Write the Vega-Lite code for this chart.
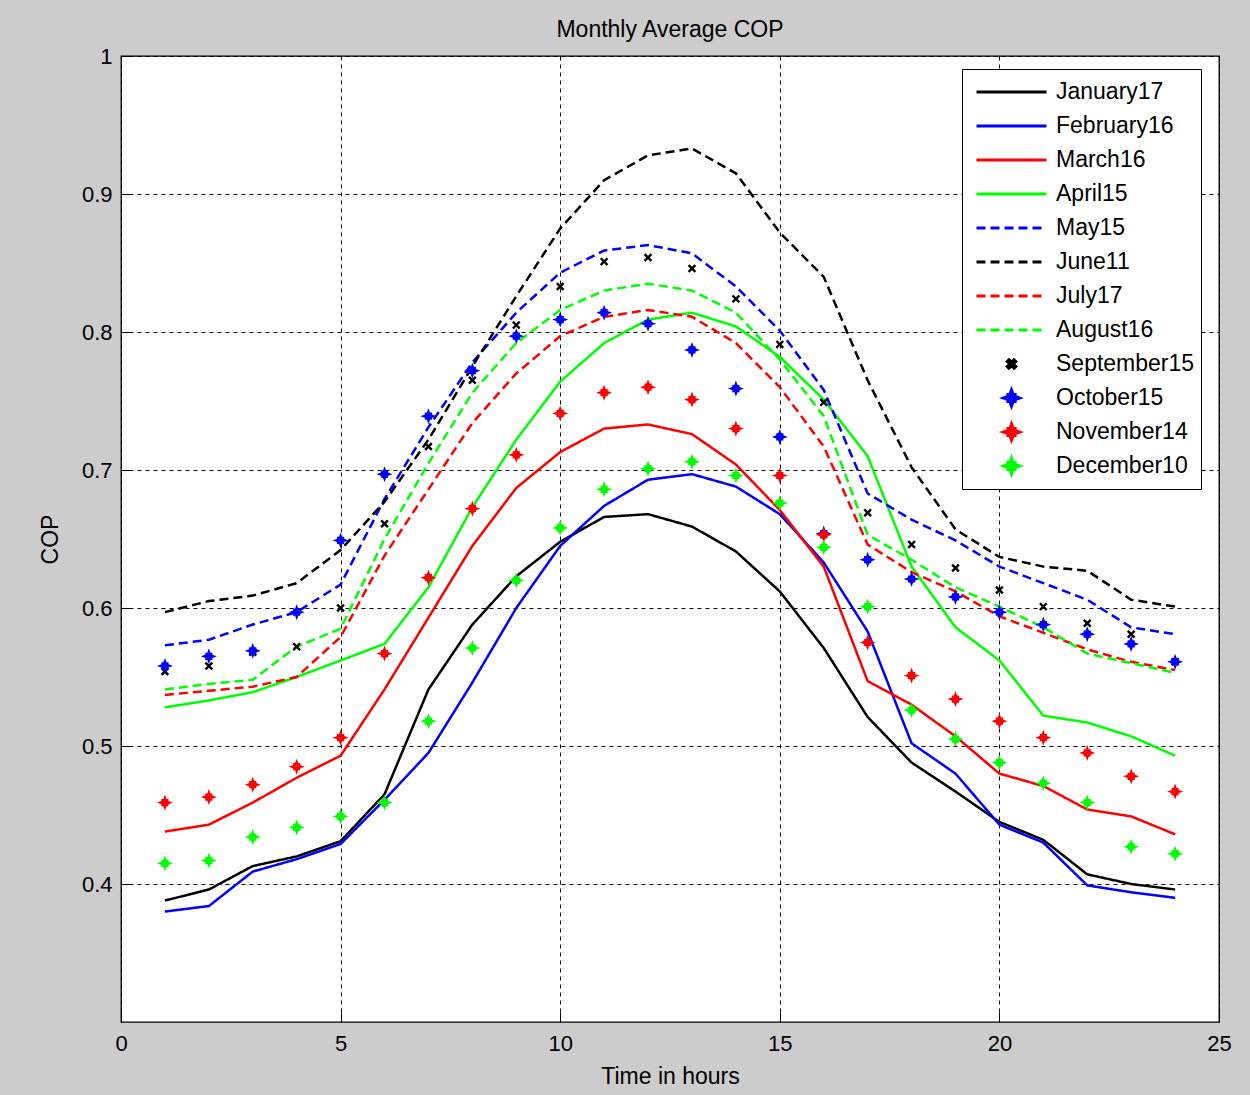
{
"$schema":"https://vega.github.io/schema/vega-lite/v6.json",
"width":1098,"height":966,
"autosize":{"type":"none"},
"padding":{"left":121,"top":56,"right":31,"bottom":73},
"background":"#cccccc",
"title":{"text":"Monthly Average COP","fontSize":23,"font":"Liberation Sans","fontWeight":"normal","color":"#000","offset":3,"anchor":"middle"},
"config":{
 "view":{"fill":"white","stroke":"#000","strokeWidth":1.3},
 "axis":{"labelFont":"Liberation Sans","labelFontSize":22,"labelColor":"#000","titleFont":"Liberation Sans","titleFontSize":23,"titleFontWeight":"normal","titleColor":"#000","domain":false,"gridColor":"#000","gridDash":[4,4],"gridOpacity":1,"gridWidth":1,"tickColor":"#000","tickSize":-10,"tickWidth":1,"labelPadding":19,"labelFlush":false},
 "legend":{"orient":"none","legendX":841,"legendY":13,"direction":"vertical","strokeColor":"#000","fillColor":"white","padding":6,"labelFont":"Liberation Sans","labelFontSize":23,"labelColor":"#000","clipHeight":34,"rowPadding":0,"symbolStrokeWidth":3,"symbolOffset":7,"labelOffset":8,"labelLimit":300}
},
"data":{"values":[
{"s":"January17","h":1,"c":0.388},{"s":"January17","h":2,"c":0.396},{"s":"January17","h":3,"c":0.413},{"s":"January17","h":4,"c":0.420},{"s":"January17","h":5,"c":0.431},{"s":"January17","h":6,"c":0.465},{"s":"January17","h":7,"c":0.541},{"s":"January17","h":8,"c":0.588},{"s":"January17","h":9,"c":0.623},{"s":"January17","h":10,"c":0.648},{"s":"January17","h":11,"c":0.666},{"s":"January17","h":12,"c":0.668},{"s":"January17","h":13,"c":0.659},{"s":"January17","h":14,"c":0.641},{"s":"January17","h":15,"c":0.612},{"s":"January17","h":16,"c":0.571},{"s":"January17","h":17,"c":0.521},{"s":"January17","h":18,"c":0.488},{"s":"January17","h":19,"c":0.467},{"s":"January17","h":20,"c":0.445},{"s":"January17","h":21,"c":0.432},{"s":"January17","h":22,"c":0.407},{"s":"January17","h":23,"c":0.400},{"s":"January17","h":24,"c":0.396},
{"s":"February16","h":1,"c":0.380},{"s":"February16","h":2,"c":0.384},{"s":"February16","h":3,"c":0.409},{"s":"February16","h":4,"c":0.418},{"s":"February16","h":5,"c":0.429},{"s":"February16","h":6,"c":0.461},{"s":"February16","h":7,"c":0.495},{"s":"February16","h":8,"c":0.546},{"s":"February16","h":9,"c":0.600},{"s":"February16","h":10,"c":0.645},{"s":"February16","h":11,"c":0.674},{"s":"February16","h":12,"c":0.693},{"s":"February16","h":13,"c":0.697},{"s":"February16","h":14,"c":0.688},{"s":"February16","h":15,"c":0.668},{"s":"February16","h":16,"c":0.633},{"s":"February16","h":17,"c":0.583},{"s":"February16","h":18,"c":0.502},{"s":"February16","h":19,"c":0.480},{"s":"February16","h":20,"c":0.443},{"s":"February16","h":21,"c":0.430},{"s":"February16","h":22,"c":0.399},{"s":"February16","h":23,"c":0.394},{"s":"February16","h":24,"c":0.390},
{"s":"March16","h":1,"c":0.438},{"s":"March16","h":2,"c":0.443},{"s":"March16","h":3,"c":0.459},{"s":"March16","h":4,"c":0.477},{"s":"March16","h":5,"c":0.493},{"s":"March16","h":6,"c":0.541},{"s":"March16","h":7,"c":0.593},{"s":"March16","h":8,"c":0.645},{"s":"March16","h":9,"c":0.687},{"s":"March16","h":10,"c":0.713},{"s":"March16","h":11,"c":0.730},{"s":"March16","h":12,"c":0.733},{"s":"March16","h":13,"c":0.726},{"s":"March16","h":14,"c":0.704},{"s":"March16","h":15,"c":0.671},{"s":"March16","h":16,"c":0.630},{"s":"March16","h":17,"c":0.547},{"s":"March16","h":18,"c":0.530},{"s":"March16","h":19,"c":0.507},{"s":"March16","h":20,"c":0.480},{"s":"March16","h":21,"c":0.471},{"s":"March16","h":22,"c":0.454},{"s":"March16","h":23,"c":0.449},{"s":"March16","h":24,"c":0.436},
{"s":"April15","h":1,"c":0.528},{"s":"April15","h":2,"c":0.533},{"s":"April15","h":3,"c":0.539},{"s":"April15","h":4,"c":0.550},{"s":"April15","h":5,"c":0.562},{"s":"April15","h":6,"c":0.574},{"s":"April15","h":7,"c":0.615},{"s":"April15","h":8,"c":0.673},{"s":"April15","h":9,"c":0.722},{"s":"April15","h":10,"c":0.764},{"s":"April15","h":11,"c":0.792},{"s":"April15","h":12,"c":0.809},{"s":"April15","h":13,"c":0.814},{"s":"April15","h":14,"c":0.804},{"s":"April15","h":15,"c":0.782},{"s":"April15","h":16,"c":0.751},{"s":"April15","h":17,"c":0.710},{"s":"April15","h":18,"c":0.630},{"s":"April15","h":19,"c":0.586},{"s":"April15","h":20,"c":0.562},{"s":"April15","h":21,"c":0.522},{"s":"April15","h":22,"c":0.517},{"s":"April15","h":23,"c":0.507},{"s":"April15","h":24,"c":0.493},
{"s":"May15","h":1,"c":0.573},{"s":"May15","h":2,"c":0.577},{"s":"May15","h":3,"c":0.588},{"s":"May15","h":4,"c":0.597},{"s":"May15","h":5,"c":0.617},{"s":"May15","h":6,"c":0.679},{"s":"May15","h":7,"c":0.731},{"s":"May15","h":8,"c":0.778},{"s":"May15","h":9,"c":0.814},{"s":"May15","h":10,"c":0.843},{"s":"May15","h":11,"c":0.859},{"s":"May15","h":12,"c":0.863},{"s":"May15","h":13,"c":0.857},{"s":"May15","h":14,"c":0.833},{"s":"May15","h":15,"c":0.801},{"s":"May15","h":16,"c":0.758},{"s":"May15","h":17,"c":0.683},{"s":"May15","h":18,"c":0.664},{"s":"May15","h":19,"c":0.649},{"s":"May15","h":20,"c":0.630},{"s":"May15","h":21,"c":0.618},{"s":"May15","h":22,"c":0.606},{"s":"May15","h":23,"c":0.586},{"s":"May15","h":24,"c":0.581},
{"s":"June11","h":1,"c":0.597},{"s":"June11","h":2,"c":0.605},{"s":"June11","h":3,"c":0.609},{"s":"June11","h":4,"c":0.618},{"s":"June11","h":5,"c":0.642},{"s":"June11","h":6,"c":0.677},{"s":"June11","h":7,"c":0.722},{"s":"June11","h":8,"c":0.775},{"s":"June11","h":9,"c":0.826},{"s":"June11","h":10,"c":0.875},{"s":"June11","h":11,"c":0.910},{"s":"June11","h":12,"c":0.928},{"s":"June11","h":13,"c":0.933},{"s":"June11","h":14,"c":0.915},{"s":"June11","h":15,"c":0.872},{"s":"June11","h":16,"c":0.840},{"s":"June11","h":17,"c":0.765},{"s":"June11","h":18,"c":0.702},{"s":"June11","h":19,"c":0.657},{"s":"June11","h":20,"c":0.637},{"s":"June11","h":21,"c":0.630},{"s":"June11","h":22,"c":0.627},{"s":"June11","h":23,"c":0.606},{"s":"June11","h":24,"c":0.601},
{"s":"July17","h":1,"c":0.537},{"s":"July17","h":2,"c":0.540},{"s":"July17","h":3,"c":0.543},{"s":"July17","h":4,"c":0.550},{"s":"July17","h":5,"c":0.579},{"s":"July17","h":6,"c":0.638},{"s":"July17","h":7,"c":0.686},{"s":"July17","h":8,"c":0.734},{"s":"July17","h":9,"c":0.770},{"s":"July17","h":10,"c":0.797},{"s":"July17","h":11,"c":0.811},{"s":"July17","h":12,"c":0.816},{"s":"July17","h":13,"c":0.811},{"s":"July17","h":14,"c":0.792},{"s":"July17","h":15,"c":0.760},{"s":"July17","h":16,"c":0.717},{"s":"July17","h":17,"c":0.646},{"s":"July17","h":18,"c":0.626},{"s":"July17","h":19,"c":0.612},{"s":"July17","h":20,"c":0.594},{"s":"July17","h":21,"c":0.582},{"s":"July17","h":22,"c":0.570},{"s":"July17","h":23,"c":0.561},{"s":"July17","h":24,"c":0.555},
{"s":"August16","h":1,"c":0.541},{"s":"August16","h":2,"c":0.545},{"s":"August16","h":3,"c":0.548},{"s":"August16","h":4,"c":0.572},{"s":"August16","h":5,"c":0.585},{"s":"August16","h":6,"c":0.650},{"s":"August16","h":7,"c":0.705},{"s":"August16","h":8,"c":0.756},{"s":"August16","h":9,"c":0.792},{"s":"August16","h":10,"c":0.816},{"s":"August16","h":11,"c":0.830},{"s":"August16","h":12,"c":0.835},{"s":"August16","h":13,"c":0.830},{"s":"August16","h":14,"c":0.814},{"s":"August16","h":15,"c":0.780},{"s":"August16","h":16,"c":0.739},{"s":"August16","h":17,"c":0.653},{"s":"August16","h":18,"c":0.635},{"s":"August16","h":19,"c":0.615},{"s":"August16","h":20,"c":0.601},{"s":"August16","h":21,"c":0.586},{"s":"August16","h":22,"c":0.567},{"s":"August16","h":23,"c":0.560},{"s":"August16","h":24,"c":0.553},
{"s":"September15","h":1,"c":0.554},{"s":"September15","h":2,"c":0.558},{"s":"September15","h":3,"c":0.568},{"s":"September15","h":4,"c":0.572},{"s":"September15","h":5,"c":0.600},{"s":"September15","h":6,"c":0.661},{"s":"September15","h":7,"c":0.717},{"s":"September15","h":8,"c":0.765},{"s":"September15","h":9,"c":0.805},{"s":"September15","h":10,"c":0.833},{"s":"September15","h":11,"c":0.851},{"s":"September15","h":12,"c":0.854},{"s":"September15","h":13,"c":0.846},{"s":"September15","h":14,"c":0.824},{"s":"September15","h":15,"c":0.791},{"s":"September15","h":16,"c":0.749},{"s":"September15","h":17,"c":0.669},{"s":"September15","h":18,"c":0.646},{"s":"September15","h":19,"c":0.629},{"s":"September15","h":20,"c":0.613},{"s":"September15","h":21,"c":0.601},{"s":"September15","h":22,"c":0.589},{"s":"September15","h":23,"c":0.581},{"s":"September15","h":24,"c":0.561},
{"s":"October15","h":1,"c":0.558},{"s":"October15","h":2,"c":0.565},{"s":"October15","h":3,"c":0.569},{"s":"October15","h":4,"c":0.597},{"s":"October15","h":5,"c":0.649},{"s":"October15","h":6,"c":0.697},{"s":"October15","h":7,"c":0.739},{"s":"October15","h":8,"c":0.772},{"s":"October15","h":9,"c":0.797},{"s":"October15","h":10,"c":0.809},{"s":"October15","h":11,"c":0.814},{"s":"October15","h":12,"c":0.806},{"s":"October15","h":13,"c":0.787},{"s":"October15","h":14,"c":0.759},{"s":"October15","h":15,"c":0.724},{"s":"October15","h":16,"c":0.654},{"s":"October15","h":17,"c":0.635},{"s":"October15","h":18,"c":0.621},{"s":"October15","h":19,"c":0.608},{"s":"October15","h":20,"c":0.597},{"s":"October15","h":21,"c":0.588},{"s":"October15","h":22,"c":0.581},{"s":"October15","h":23,"c":0.574},{"s":"October15","h":24,"c":0.561},
{"s":"November14","h":1,"c":0.459},{"s":"November14","h":2,"c":0.463},{"s":"November14","h":3,"c":0.472},{"s":"November14","h":4,"c":0.485},{"s":"November14","h":5,"c":0.506},{"s":"November14","h":6,"c":0.567},{"s":"November14","h":7,"c":0.622},{"s":"November14","h":8,"c":0.672},{"s":"November14","h":9,"c":0.711},{"s":"November14","h":10,"c":0.741},{"s":"November14","h":11,"c":0.756},{"s":"November14","h":12,"c":0.760},{"s":"November14","h":13,"c":0.751},{"s":"November14","h":14,"c":0.730},{"s":"November14","h":15,"c":0.696},{"s":"November14","h":16,"c":0.653},{"s":"November14","h":17,"c":0.575},{"s":"November14","h":18,"c":0.551},{"s":"November14","h":19,"c":0.534},{"s":"November14","h":20,"c":0.518},{"s":"November14","h":21,"c":0.506},{"s":"November14","h":22,"c":0.495},{"s":"November14","h":23,"c":0.478},{"s":"November14","h":24,"c":0.467},
{"s":"December10","h":1,"c":0.415},{"s":"December10","h":2,"c":0.417},{"s":"December10","h":3,"c":0.434},{"s":"December10","h":4,"c":0.441},{"s":"December10","h":5,"c":0.449},{"s":"December10","h":6,"c":0.459},{"s":"December10","h":7,"c":0.518},{"s":"December10","h":8,"c":0.571},{"s":"December10","h":9,"c":0.620},{"s":"December10","h":10,"c":0.658},{"s":"December10","h":11,"c":0.686},{"s":"December10","h":12,"c":0.701},{"s":"December10","h":13,"c":0.706},{"s":"December10","h":14,"c":0.696},{"s":"December10","h":15,"c":0.676},{"s":"December10","h":16,"c":0.644},{"s":"December10","h":17,"c":0.601},{"s":"December10","h":18,"c":0.526},{"s":"December10","h":19,"c":0.505},{"s":"December10","h":20,"c":0.488},{"s":"December10","h":21,"c":0.473},{"s":"December10","h":22,"c":0.459},{"s":"December10","h":23,"c":0.427},{"s":"December10","h":24,"c":0.422}
]},
"layer":[
 {"transform":[{"filter":{"field":"s","oneOf":["January17","February16","March16","April15","May15","June11","July17","August16"]}}],
  "mark":{"type":"line","strokeWidth":2.5},
  "encoding":{
   "x":{"field":"h","type":"quantitative","scale":{"domain":[0,25],"nice":false,"zero":false},"axis":{"values":[0,5,10,15,20,25],"title":"Time in hours","grid":true,"titlePadding":11,"labelPadding":21}},
   "y":{"field":"c","type":"quantitative","scale":{"domain":[0.3,1],"nice":false,"zero":false},"axis":{"values":[0.4,0.5,0.6,0.7,0.8,0.9,1],"format":"~g","title":"COP","grid":true,"titlePadding":19}},
   "color":{"field":"s","type":"nominal","scale":{"domain":["January17","February16","March16","April15","May15","June11","July17","August16","September15","October15","November14","December10"],"range":["#000000","#0000ff","#ff0000","#00ff00","#0000ff","#000000","#ff0000","#00ff00","#000000","#0000ff","#ff0000","#00ff00"]},"legend":{"title":null,"encode":{"symbols":{"update":{"fill":{"scale":"color","field":"value"},"stroke":{"scale":"color","field":"value"},"strokeWidth":{"value":3},"opacity":{"value":1}}}}}},
   "strokeDash":{"field":"s","type":"nominal","scale":{"domain":["January17","February16","March16","April15","May15","June11","July17","August16","September15","October15","November14","December10"],"range":[[1,0],[1,0],[1,0],[1,0],[9,5],[9,5],[9,5],[9,5],[1,0],[1,0],[1,0],[1,0]]},"legend":{"title":null}}
  }},
 {"transform":[{"filter":{"field":"s","oneOf":["September15","October15","November14","December10"]}}],
  "mark":{"type":"point","filled":true,"opacity":1,"strokeWidth":0},
  "encoding":{
   "x":{"field":"h","type":"quantitative"},
   "y":{"field":"c","type":"quantitative"},
   "color":{"field":"s","type":"nominal","legend":{"title":null,"encode":{"symbols":{"update":{"fill":{"scale":"color","field":"value"},"stroke":{"scale":"color","field":"value"},"strokeWidth":{"value":3},"opacity":{"value":1}}}}}},
   "shape":{"field":"s","type":"nominal","scale":{"domain":["January17","February16","March16","April15","May15","June11","July17","August16","September15","October15","November14","December10"],"range":["M-1,0L1,0","M-1,0L1,0","M-1,0L1,0","M-1,0L1,0","M-1,0L1,0","M-1,0L1,0","M-1,0L1,0","M-1,0L1,0","M-1,-0.6L-0.6,-1L0,-0.4L0.6,-1L1,-0.6L0.4,0L1,0.6L0.6,1L0,0.4L-0.6,1L-1,0.6L-0.4,0Z","M0,-1L0.2,-0.45L0.45,-0.45L0.45,-0.2L1,0L0.45,0.2L0.45,0.45L0.2,0.45L0,1L-0.2,0.45L-0.45,0.45L-0.45,0.2L-1,0L-0.45,-0.2L-0.45,-0.45L-0.2,-0.45Z","M0,-1L0.2,-0.45L0.45,-0.45L0.45,-0.2L1,0L0.45,0.2L0.45,0.45L0.2,0.45L0,1L-0.2,0.45L-0.45,0.45L-0.45,0.2L-1,0L-0.45,-0.2L-0.45,-0.45L-0.2,-0.45Z","M0,-1L0.2,-0.45L0.45,-0.45L0.45,-0.2L1,0L0.45,0.2L0.45,0.45L0.2,0.45L0,1L-0.2,0.45L-0.45,0.45L-0.45,0.2L-1,0L-0.45,-0.2L-0.45,-0.45L-0.2,-0.45Z"]},"legend":{"title":null}},
   "size":{"field":"s","type":"nominal","scale":{"type":"ordinal","domain":["January17","February16","March16","April15","May15","June11","July17","August16","September15","October15","November14","December10"],"range":[4900,4900,4900,4900,4900,4900,4900,4900,72,256,256,256]},"legend":{"title":null}}
  }}
]
}
